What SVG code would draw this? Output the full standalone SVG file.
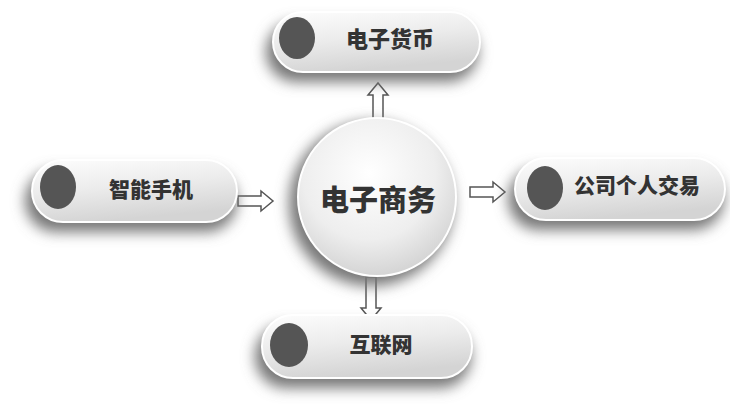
<svg xmlns="http://www.w3.org/2000/svg" width="730" height="411" viewBox="0 0 730 411">
<style>
.lbl{font-family:"Noto Sans CJK SC","Noto Sans",sans-serif;font-weight:900;fill:#333;text-anchor:middle;dominant-baseline:central}
.dot{fill:#555}
.pill{fill:url(#pg);stroke:#fff;stroke-width:2}
.sh{fill:#777;filter:url(#blur)}
.arr{fill:#fff;stroke:#555;stroke-width:1.5;stroke-linejoin:miter}
</style>
<defs>
<filter id="blur" x="-20%" y="-40%" width="140%" height="180%"><feGaussianBlur stdDeviation="7"/></filter>
<linearGradient id="pg" x1="0" y1="0" x2="0.3" y2="1">
<stop offset="0" stop-color="#fdfdfd"/>
<stop offset="0.5" stop-color="#ececec"/>
<stop offset="1" stop-color="#d4d4d4"/>
</linearGradient>
<radialGradient id="cg" cx="0.45" cy="0.35" r="0.7">
<stop offset="0" stop-color="#ffffff"/>
<stop offset="0.6" stop-color="#eeeeee"/>
<stop offset="1" stop-color="#cfcfcf"/>
</radialGradient>
</defs>
<rect width="730" height="411" fill="#fff"/>
<g id="connectors">
<path class="arr" d="M238,196 L261,196 L261,191 L273,201 L261,211 L261,206 L238,206 Z"/>
<path class="arr" d="M470,187 L493,187 L493,182 L505,192 L493,202 L493,197 L470,197 Z"/>
<path class="arr" d="M373,120 L373,95 L368,95 L378,83 L388,95 L383,95 L383,120 Z"/>
<path class="arr" d="M366,277 L366,308 L361,308 L371,320 L381,308 L376,308 L376,277 Z"/>
</g>
<g id="n-center">
<circle class="sh" cx="371" cy="204" r="82"/>
<circle cx="377" cy="197" r="79" fill="url(#cg)" stroke="#fff" stroke-width="2"/>
<text class="lbl" x="378" y="198" font-size="29">电子商务</text>
</g>
<g id="n-top">
<rect class="sh" x="266" y="22" width="212" height="60" rx="30"/>
<rect class="pill" x="273" y="12" width="207" height="60" rx="30"/>
<ellipse class="dot" cx="297" cy="38" rx="18" ry="21"/>
<text class="lbl" x="390" y="37" font-size="22">电子货币</text>
</g>
<g id="n-left">
<rect class="sh" x="25" y="170" width="212" height="62" rx="31"/>
<rect class="pill" x="32" y="160" width="205" height="62" rx="31"/>
<ellipse class="dot" cx="58" cy="187" rx="18" ry="22"/>
<text class="lbl" x="151" y="188" font-size="21">智能手机</text>
</g>
<g id="n-right">
<rect class="sh" x="508" y="168" width="216" height="62" rx="31"/>
<rect class="pill" x="515" y="158" width="210" height="62" rx="31"/>
<ellipse class="dot" cx="545" cy="188" rx="18" ry="22"/>
<text class="lbl" x="637" y="184" font-size="21">公司个人交易</text>
</g>
<g id="n-bottom">
<rect class="sh" x="255" y="325" width="216" height="63" rx="31"/>
<rect class="pill" x="262" y="315" width="210" height="63" rx="31"/>
<ellipse class="dot" cx="289" cy="345" rx="19" ry="22"/>
<text class="lbl" x="381" y="343" font-size="21">互联网</text>
</g>
</svg>
